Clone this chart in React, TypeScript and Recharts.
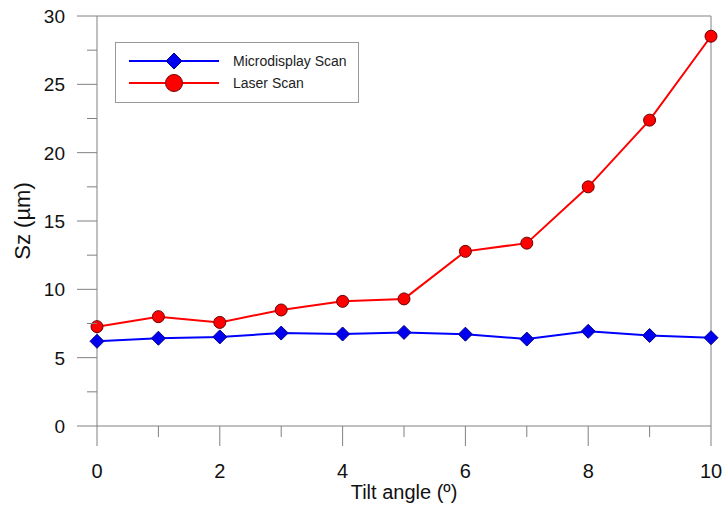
import { LineChart, Line, XAxis, YAxis, ReferenceLine, Legend } from 'recharts';

const tiltAngles = [0, 1, 2, 3, 4, 5, 6, 7, 8, 9, 10];
const microdisplayScan = [6.2, 6.42, 6.52, 6.8, 6.73, 6.85, 6.72, 6.36, 6.93, 6.62, 6.46];
const laserScan = [7.27, 8.0, 7.58, 8.49, 9.12, 9.3, 12.78, 13.38, 17.5, 22.38, 28.52];

const xTicks = [0, 1, 2, 3, 4, 5, 6, 7, 8, 9, 10];
const yTicks = [0, 2.5, 5, 7.5, 10, 12.5, 15, 17.5, 20, 22.5, 25, 27.5, 30];

const FONT = '"Liberation Sans", Arial, sans-serif';
const AXIS = '#808080';
const BLUE = '#0000ff';
const RED = '#ff0000';

const data = tiltAngles.map((t, i) => ({
  tilt: t,
  micro: microdisplayScan[i],
  laser: laserScan[i],
}));

function XTick({ x, y, payload }: any) {
  const major = payload.value % 2 === 0;
  return (
    <g>
      <line x1={x} x2={x} y1={y} y2={y + (major ? 20 : 11)} stroke={AXIS} />
      {major && (
        <text x={x} y={y + 52} textAnchor="middle" fontSize={20} fontFamily={FONT} fill="#111">
          {payload.value}
        </text>
      )}
    </g>
  );
}

function YTick({ x, y, payload }: any) {
  const major = payload.value % 5 === 0;
  return (
    <g>
      <line x1={x} x2={x - (major ? 20 : 10)} y1={y} y2={y} stroke={AXIS} />
      {major && (
        <text x={x - 32} y={y + 7} textAnchor="end" fontSize={19} fontFamily={FONT} fill="#111">
          {payload.value}
        </text>
      )}
    </g>
  );
}

function Diamond({ cx, cy, r, fill, stroke }: any) {
  return (
    <polygon
      points={`${cx},${cy - r} ${cx + r},${cy} ${cx},${cy + r} ${cx - r},${cy}`}
      fill={fill}
      stroke={stroke}
      strokeWidth={1}
    />
  );
}

function renderLegend() {
  const rows = [
    { name: 'Microdisplay Scan', color: BLUE, shape: 'diamond' },
    { name: 'Laser Scan', color: RED, shape: 'circle' },
  ];
  return (
    <svg width={244} height={61} style={{ display: 'block' }}>
      <rect x={0.5} y={0.5} width={243} height={60} fill="#fff" stroke="#999" />
      {rows.map((r, i) => {
        const cy = 19 + i * 22;
        return (
          <g key={r.name}>
            <line x1={14} x2={104} y1={cy} y2={cy} stroke={r.color} strokeWidth={2} />
            {r.shape === 'diamond' ? (
              <Diamond cx={59} cy={cy} r={8} fill="#0000ee" stroke="#00008b" />
            ) : (
              <circle cx={59} cy={cy} r={8.5} fill={RED} stroke="#7a0000" />
            )}
            <text x={118} y={cy + 5} fontSize={14} fontFamily={FONT} fill="#222">
              {r.name}
            </text>
          </g>
        );
      })}
    </svg>
  );
}

export default function App() {
  return (
    <div style={{ position: 'absolute', left: 0, top: 0, width: 724, height: 512, background: '#fff' }}>
      <LineChart width={724} height={512} data={data} margin={{ top: 16, right: 13, bottom: 36, left: 0 }}>
        <XAxis
          dataKey="tilt"
          type="number"
          domain={[0, 10]}
          ticks={xTicks}
          interval={0}
          height={50}
          tickSize={0}
          tickMargin={0}
          tickLine={false}
          tick={<XTick />}
          axisLine={{ stroke: AXIS }}
          label={{
            value: 'Tilt angle (º)',
            position: 'bottom',
            offset: 9,
            style: { fontSize: 20, fontFamily: FONT, fill: '#111' },
          }}
        />
        <YAxis
          type="number"
          domain={[0, 30]}
          ticks={yTicks}
          interval={0}
          width={97}
          tickSize={0}
          tickMargin={0}
          tickLine={false}
          tick={<YTick />}
          axisLine={{ stroke: AXIS }}
          label={{
            value: 'Sz (µm)',
            angle: -90,
            position: 'insideLeft',
            offset: 22,
            style: { fontSize: 22, fontFamily: FONT, fill: '#111', textAnchor: 'middle' },
          }}
        />
        <ReferenceLine y={30} stroke={AXIS} ifOverflow="visible" />
        <ReferenceLine x={10} stroke={AXIS} ifOverflow="visible" />
        <Legend
          layout="horizontal"
          align="center"
          verticalAlign="middle"
          width={244}
          content={renderLegend}
          wrapperStyle={{ left: 115, top: 42, width: 244, height: 61 }}
        />
        <Line
          dataKey="micro"
          name="Microdisplay Scan"
          stroke={BLUE}
          strokeWidth={2}
          isAnimationActive={false}
          dot={(p: any) => (
            <Diamond key={`d-${p.index}`} cx={p.cx} cy={p.cy} r={7} fill="#0000ee" stroke="#00008b" />
          )}
        />
        <Line
          dataKey="laser"
          name="Laser Scan"
          stroke={RED}
          strokeWidth={2}
          isAnimationActive={false}
          dot={(p: any) => (
            <circle key={`c-${p.index}`} cx={p.cx} cy={p.cy} r={6} fill={RED} stroke="#6b0000" strokeWidth={1} />
          )}
        />
      </LineChart>
    </div>
  );
}
